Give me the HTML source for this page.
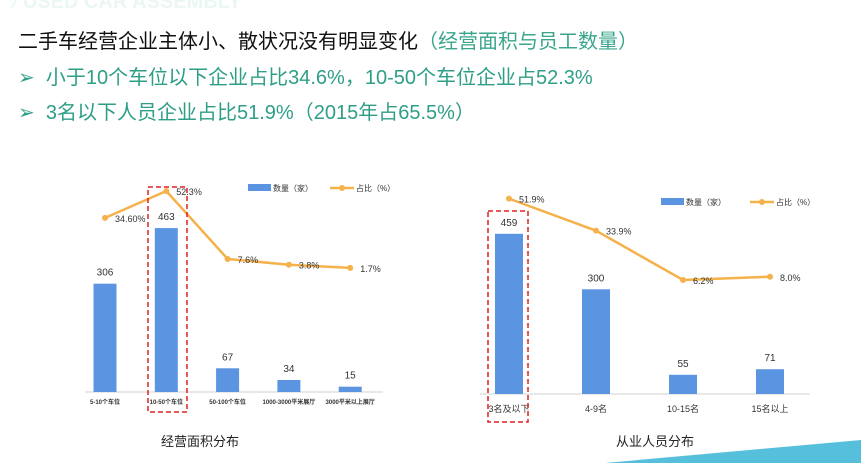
<!DOCTYPE html>
<html><head><meta charset="utf-8"><style>
body{margin:0;width:861px;height:463px;overflow:hidden;background:#fff;font-family:"Liberation Sans","Noto Sans CJK SC",sans-serif;position:relative}
.t{position:absolute;white-space:nowrap}
</style></head><body>
<div class="t" style="left:14px;top:-9px;font-size:20px;font-weight:bold;color:#ebf7f3">⁄ USED CAR ASSEMBLY</div>
<div class="t" style="left:18px;top:25px;font-size:20px;color:#111">二手车经营企业主体小、散状况没有明显变化<span style="color:#3aa58c">（经营面积与员工数量）</span></div>
<div class="t" style="left:18px;top:61px;font-size:20px;color:#2e9e86">➢&nbsp; 小于10个车位以下企业占比34.6%，10-50个车位企业占52.3%</div>
<div class="t" style="left:18px;top:96px;font-size:20px;color:#2e9e86">➢&nbsp; 3名以下人员企业占比51.9%（2015年占65.5%）</div>
<svg width="861" height="463" style="position:absolute;left:0;top:0" id="svg">
<polygon points="605,463 861,440 861,463" fill="#55bfdc"/>
</svg>
<script>
const cats1=["5-10个车位","10-50个车位","50-100个车位","1000-3000平米展厅","3000平米以上展厅"];
const counts1=[306,463,67,34,15];
const pct1=[34.6,52.3,7.6,3.8,1.7];
const pctLabels1=["34.60%","52.3%","7.6%","3.8%","1.7%"];
const cats2=["3名及以下","4-9名","10-15名","15名以上"];
const counts2=[459,300,55,71];
const pct2=[51.9,33.9,6.2,8.0];
const pctLabels2=["51.9%","33.9%","6.2%","8.0%"];
const svg=document.getElementById('svg');const NS="http://www.w3.org/2000/svg";
function mk(tag,attrs,txt){const e=document.createElementNS(NS,tag);for(const k in attrs)e.setAttribute(k,attrs[k]);if(txt!==undefined)e.textContent=txt;svg.appendChild(e);return e;}
function chart(o){
  const {cats,counts,pct,labels,x0,step,bw,base,bs,ly0,ls,axisL,axisR,xlY,xlFs,xlBold,pre}=o;
  const xc=i=>x0+i*step, yb=v=>base-v*bs, yl=v=>ly0-v*ls;
  let e=mk('line',{x1:axisL,x2:axisR,y1:base,y2:base,stroke:'#d0d0d0','stroke-width':1});
  
  cats.forEach((c,i)=>{
    e=mk('rect',{x:xc(i)-bw/2,y:yb(counts[i]),width:bw,height:counts[i]*bs,fill:'#5b94e0'});
    
    e=mk('text',{x:xc(i),y:yb(counts[i])-8,'font-size':10,'text-anchor':'middle',fill:'#333'},String(counts[i]));
    
    e=mk('text',{x:xc(i),y:xlY,'font-size':xlFs,'text-anchor':'middle',fill:'#333','font-weight':xlBold?'bold':'normal'},c);
    
  });
  e=mk('polyline',{points:pct.map((v,i)=>xc(i)+','+yl(v)).join(' '),fill:'none',stroke:'#f5b14a','stroke-width':2.5});
  
  pct.forEach((v,i)=>{
    e=mk('circle',{cx:xc(i),cy:yl(v),r:3,fill:'#f5b14a'});
    
    e=mk('text',{x:xc(i)+10,y:yl(v)+4,'font-size':9,fill:'#333'},labels[i]);
    
  });
}
chart({cats:cats1,counts:counts1,pct:pct1,labels:pctLabels1,x0:105,step:61.3,bw:23,base:392,bs:0.354,ly0:270.5,ls:1.52,axisL:85,axisR:383,xlY:404,xlFs:6,xlBold:true,pre:'area'});
chart({cats:cats2,counts:counts2,pct:pct2,labels:pctLabels2,x0:509,step:87,bw:28,base:394,bs:0.349,ly0:291,ls:1.78,axisL:480,axisR:810,xlY:412,xlFs:9,xlBold:false,pre:'staff'});
let e;
e=mk('rect',{x:148,y:187,width:39,height:225,fill:'none',stroke:'#e02020','stroke-width':1.5,'stroke-dasharray':'5,3'});

e=mk('rect',{x:488,y:211,width:40,height:211,fill:'none',stroke:'#e02020','stroke-width':1.5,'stroke-dasharray':'5,3'});

function legend(x,y,lx,pre){
  let e=mk('rect',{x:x,y:y-4,width:23,height:7,fill:'#5b94e0'});
  e=mk('text',{x:x+25,y:y+3,'font-size':8,fill:'#333'},'数量（家）');
  e=mk('line',{x1:lx,x2:lx+24,y1:y,y2:y,stroke:'#f5b14a','stroke-width':2.5});
  e=mk('circle',{cx:lx+12,cy:y,r:3,fill:'#f5b14a'});
  e=mk('text',{x:lx+26,y:y+3,'font-size':8,fill:'#333'},'占比（%）');
}
legend(248,188,330,'area');legend(661,202,750,'staff');
e=mk('text',{x:200,y:446,'font-size':13,'text-anchor':'middle',fill:'#222'},'经营面积分布');
e=mk('text',{x:655,y:446,'font-size':13,'text-anchor':'middle',fill:'#222'},'从业人员分布');
</script>
</body></html>
